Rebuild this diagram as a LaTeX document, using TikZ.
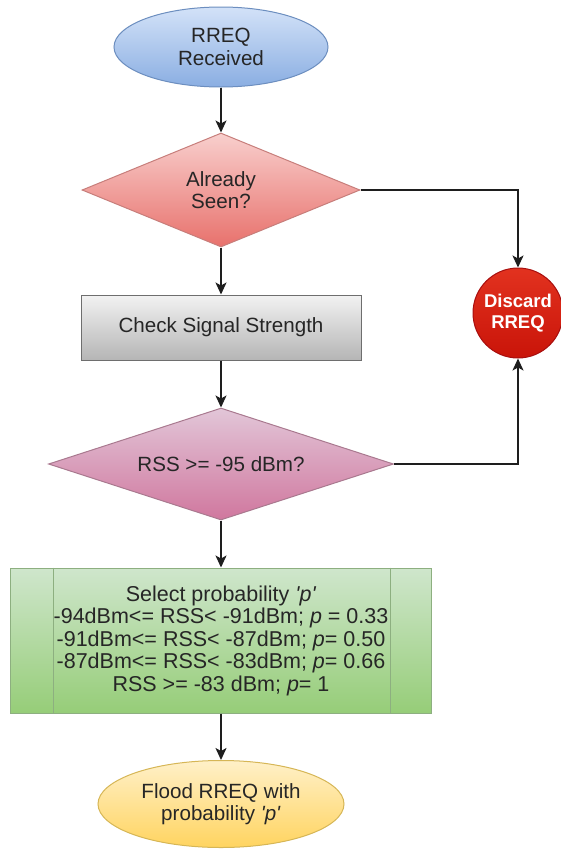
\documentclass[tikz,border=0pt]{standalone}
\usepackage{fontspec}
\setmainfont{Liberation Sans}
\usetikzlibrary{shapes.geometric,arrows.meta}

\definecolor{txt}{HTML}{262626}
\definecolor{edge}{HTML}{1E1E1E}
% fills and borders
\definecolor{blueTop}{HTML}{D3E2F8}
\definecolor{blueBot}{HTML}{8AAEE2}
\definecolor{blueLine}{HTML}{6C8EBF}
\definecolor{redTop}{HTML}{F8CFCD}
\definecolor{redBot}{HTML}{E8716C}
\definecolor{redLine}{HTML}{C77E7B}
\definecolor{grayTop}{HTML}{F2F2F2}
\definecolor{grayBot}{HTML}{B5B5B5}
\definecolor{grayLine}{HTML}{6E6E6E}
\definecolor{mauveTop}{HTML}{E2C6D8}
\definecolor{mauveBot}{HTML}{D0779E}
\definecolor{mauveLine}{HTML}{A9798F}
\definecolor{greenTop}{HTML}{CFE6CC}
\definecolor{greenBot}{HTML}{96CD78}
\definecolor{greenLine}{HTML}{8DAF80}
\definecolor{yelTop}{HTML}{FFF0C8}
\definecolor{yelBot}{HTML}{FFD460}
\definecolor{yelLine}{HTML}{D6B656}
\definecolor{discTop}{HTML}{E2321F}
\definecolor{discBot}{HTML}{C91409}
\definecolor{discLine}{HTML}{A80E0E}

\tikzset{
  base/.style={font=\fontsize{20.6}{22.5}\selectfont, text=txt, align=center,
    line width=1pt, inner sep=0pt},
  terminal/.style={base, ellipse},
  decision/.style={base, diamond},
  procbox/.style={base, rectangle},
  flow/.style={draw=edge, line width=1.6pt,
    -{Stealth[length=12pt,width=11pt,inset=3pt]}},
}

\newcommand{\pit}{\textit{\textquotesingle p\textquotesingle}}

\begin{document}
\begin{tikzpicture}[x=1pt,y=1pt]
  \useasboundingbox (0,0) rectangle (561,-855);

  % start terminal
  \node[terminal, minimum width=214, minimum height=80,
        top color=blueTop, bottom color=blueBot, draw=blueLine]
        (start) at (221,-47) {RREQ\\Received};

  % duplicate check
  \node[decision, minimum width=278, minimum height=114, aspect=2.44,
        top color=redTop, bottom color=redBot, draw=redLine]
        (seen) at (221,-190) {Already\\Seen?};

  % signal strength step
  \node[procbox, minimum width=280, minimum height=65,
        top color=grayTop, bottom color=grayBot, draw=grayLine]
        (check) at (221,-327.5) {Check Signal Strength};

  % threshold decision
  \node[decision, minimum width=345, minimum height=112, aspect=3.08,
        top color=mauveTop, bottom color=mauveBot, draw=mauveLine]
        (rss) at (221,-464) {RSS >= -95 dBm?};

  % probability selection (predefined process)
  \node[procbox, minimum width=421, minimum height=145,
        top color=greenTop, bottom color=greenBot, draw=greenLine,
        font=\fontsize{21.5}{22.5}\selectfont]
        (select) at (221,-640.5)
        {Select probability \pit\\
         -94dBm<= RSS< -91dBm; \textit{p} = 0.33\\
         -91dBm<= RSS< -87dBm; \textit{p}= 0.50\\
         -87dBm<= RSS< -83dBm; \textit{p}= 0.66\\
         RSS >= -83 dBm; \textit{p}= 1};
  \draw[greenLine, line width=1pt]
    ([xshift=43]select.north west) -- ([xshift=43]select.south west)
    ([xshift=-42]select.north east) -- ([xshift=-42]select.south east);

  % end terminal
  \node[terminal, minimum width=246, minimum height=87,
        top color=yelTop, bottom color=yelBot, draw=yelLine]
        (flood) at (221,-804) {Flood RREQ with\\probability \pit};

  % discard
  \node[base, circle, minimum size=90, top color=discTop, bottom color=discBot,
        draw=discLine, text=white,
        font=\fontsize{18.5}{21}\selectfont\bfseries]
        (discard) at (518,-313) {Discard\\RREQ};

  % connectors
  \draw[flow] (start.south) -- (seen.north);
  \draw[flow] (seen.south) -- (check.north);
  \draw[flow] (check.south) -- (rss.north);
  \draw[flow] (rss.south) -- (select.north);
  \draw[flow] (select.south) -- (flood.north);
  \draw[flow] (seen.east) -| (discard.north);
  \draw[flow] (rss.east) -| (discard.south);
\end{tikzpicture}
\end{document}
